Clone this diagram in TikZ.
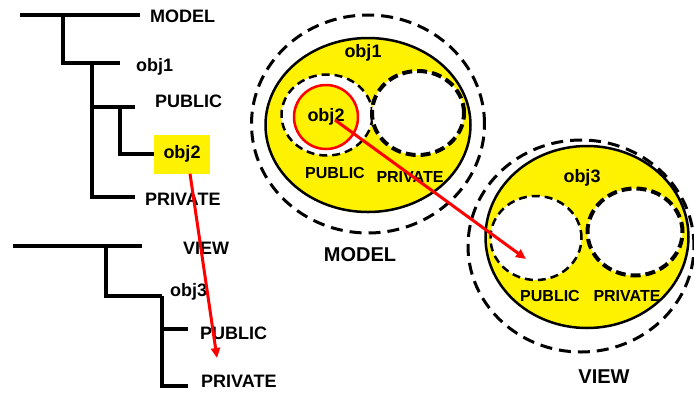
\documentclass[tikz,border=0pt]{standalone}
\usepackage{fontspec}
\setmainfont{Liberation Sans}
\usetikzlibrary{shapes.geometric, arrows.meta}

\begin{document}
\begin{tikzpicture}[x=1pt, y=-1pt,
  lbl/.style={font=\bfseries\fontsize{18}{18}\selectfont, inner sep=0pt},
  title/.style={font=\bfseries\fontsize{20}{20}\selectfont, inner sep=0pt},
  tag/.style={font=\bfseries\fontsize{16}{16}\selectfont, inner sep=0pt},
  branch/.style={line width=4pt, line join=miter},
  shell/.style={ellipse, draw, line width=3pt, dash pattern=on 12pt off 7pt},
  body/.style={ellipse, draw, fill=yellow, line width=2.5pt},
  part/.style={ellipse, draw, fill=white, line width=2.5pt,
               dash pattern=on 8pt off 5pt},
  hidden/.style={part, line width=4pt, dash pattern=on 10pt off 5pt},
  link/.style={red, line width=3pt, -{Triangle[length=10pt,width=9pt]}}
]
\useasboundingbox (0,0) rectangle (694,392);

% model tree
\node[lbl, anchor=west] (tmodel) at (150,16) {MODEL};
\node[lbl, anchor=west] (tobj1) at (136,67) {obj1};
\node[lbl, anchor=west] (tmpub) at (155,101) {PUBLIC};
\node[lbl, fill=yellow, minimum width=56, minimum height=39] (tobj2) at (182,154) {obj2};
\node[lbl, anchor=west] (tmpriv) at (145,199) {PRIVATE};
\draw[branch] (20,15) -- (140,15);
\draw[branch] (63,15) |- (120,63);
\draw[branch] (92,63) |- (135,197);
\draw[branch] (92,107) -- (135,107);
\draw[branch] (120,107) |- (tobj2.west);

% view tree
\node[lbl, anchor=west] (tview) at (183,248) {VIEW};
\node[lbl, anchor=west] (tobj3) at (170,292) {obj3};
\node[lbl, anchor=west] (tvpub) at (200,333) {PUBLIC};
\node[lbl, anchor=west] (tvpriv) at (201,381) {PRIVATE};
\draw[branch] (13,246) -- (142,246);
\draw[branch] (106,246) |- (162,296);
\draw[branch] (162,296) |- (188,386);
\draw[branch] (162,329) -- (188,329);

% model as nested sets
\node[shell, minimum width=233, minimum height=218] (mshell) at (368,124) {};
\node[body, minimum width=205, minimum height=174] (mbody) at (368,125) {};
\node[part, minimum width=91, minimum height=81] (mpub) at (327,115) {};
\node[hidden, minimum width=92, minimum height=84] (mpriv) at (418,113) {};
\node[ellipse, draw=red, fill=yellow, line width=2.5pt, minimum size=64,
      lbl] (mobj2) at (326,117) {obj2};
\node[lbl] (mobj1) at (363,53) {obj1};
\node[tag] (mpubl) at (335,173) {PUBLIC};
\node[tag] (mprivl) at (410,177) {PRIVATE};
\node[title] (mname) at (360,255) {MODEL};

% view as nested sets
\node[shell, minimum width=226, minimum height=212] (vshell) at (581,246) {};
\node[body, minimum width=203, minimum height=182] (vbody) at (587,237) {};
\node[part, minimum width=91, minimum height=84] (vpub) at (536,238) {};
\node[hidden, minimum width=95, minimum height=87] (vpriv) at (635,232) {};
\node[lbl] (vobj3) at (582,178) {obj3};
\node[tag] (vpubl) at (550,296) {PUBLIC};
\node[tag] (vprivl) at (627,296) {PRIVATE};
\node[title] (vname) at (604,377) {VIEW};

% links
\coordinate (tdrop) at (217,358);
\coordinate (vdrop) at (526,259);
\draw[link] ([xshift=8pt]tobj2.south) -- (tdrop);
\draw[link] ([shift={(9,3)}]mobj2.center) -- (vdrop);
\end{tikzpicture}
\end{document}
